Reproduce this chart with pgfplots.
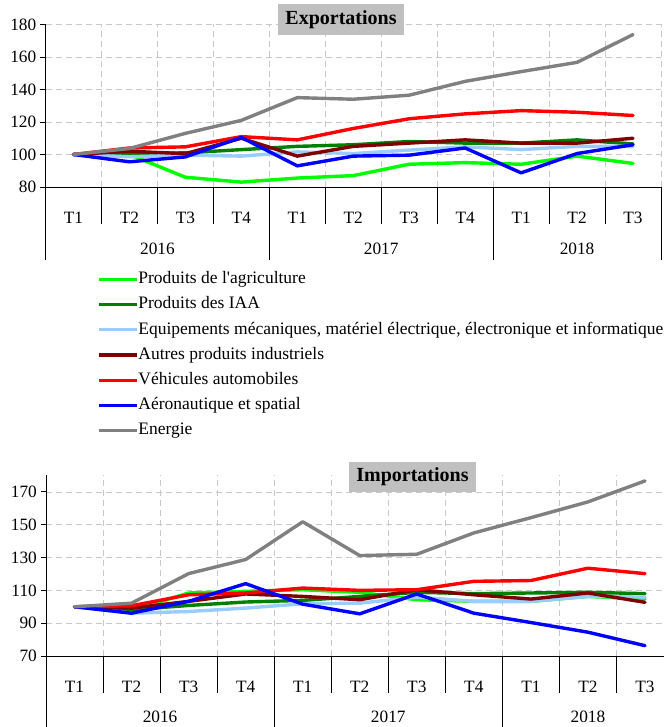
\documentclass[border=0pt]{standalone}
\usepackage{pgfplots}
\pgfplotsset{compat=1.18}
\usepackage{pgfplotstable}
\usepackage{fontspec}
\setmainfont{Liberation Serif}
\newfontfamily\plainserif{Liberation Serif}
\definecolor{cagri}{HTML}{00FF00}
\definecolor{ciaa}{HTML}{008000}
\definecolor{cequip}{HTML}{99CCFF}
\definecolor{cautres}{HTML}{800000}
\definecolor{cvehic}{HTML}{FF0000}
\definecolor{caero}{HTML}{0000FF}
\definecolor{cenergie}{HTML}{808080}
\definecolor{titlegray}{HTML}{C0C0C0}
\definecolor{gridgray}{HTML}{C8C8C8}

\pgfplotstableread{
x agri iaa equip autres vehic aero energie
0 100 100 100 100 100 100 100
1 100 100.6 98.6 102 104 95.5 103.7
2 86 101 99.6 100.5 104.7 98.5 113
3 83 103 99 110 111 110.5 121
4 85.5 105 101.6 99 109 93 135
5 87 106 100.6 105 116 99 134
6 94 108 102.7 107 122 99.6 136.5
7 95 107 104.7 109 125 104 145
8 94 107 103 107 127 88.7 151
9 99 109 105 107 126 100.6 156.7
10 94.5 106.5 105 110 124 106 173.8
}\exports

\pgfplotstableread{
x agri iaa equip autres vehic aero energie
0 100 100 100 100 100 100 100
1 97.8 98.2 96.1 99.2 100.6 96.1 102.2
2 108.4 100.8 97.1 103.3 107.3 103.3 120.2
3 109.4 102.9 99.2 107.8 108.4 114.1 128.8
4 110.4 103.9 101.8 106.3 111.4 101.6 151.8
5 108.8 106.3 102.2 104.3 110 95.7 131.2
6 104.3 108.8 105.9 110.4 110.4 107.8 132
7 103.3 108 103.3 107.3 115.5 96.1 145
8 103.3 108.4 103.3 104.7 116 90.4 154.3
9 106.3 108.8 106.3 108.4 123.5 84.5 163.9
10 104.7 108 105.9 102.7 120.2 76.3 176.7
}\imports

\pgfplotsset{
  chartstyle/.style={
    scale only axis,
    xmin=-0.5, xmax=10.5,
    axis x line*=bottom, axis y line*=left,
    axis line style={black, line width=0.9pt},
    xtick={0,...,10},
    xticklabels={T1,T2,T3,T4,T1,T2,T3,T4,T1,T2,T3},
    x tick style={draw=none},
    major x tick style={draw=none},
    xticklabel style={anchor=center, yshift=-26pt},
    minor xtick={-0.5,0.5,...,10.5},
    xminorgrids=true,
    minor x tick style={draw=none},
    ymajorgrids=true,
    grid style={gridgray, dash pattern=on 6pt off 4pt, line width=0.8pt},
    minor grid style={gridgray, dash pattern=on 6pt off 4pt, line width=0.8pt},
    y tick style={black, line width=0.9pt},
    tick align=outside,
    major tick length=5pt,
    ticklabel style={font=\fontsize{17.3}{20}\selectfont},
    yticklabel style={inner sep=4pt},
    /pgf/number format/assume math mode=true,
    clip=false,
    every axis plot/.append style={line width=3.4pt, line join=round, line cap=round},
  }
}

\begin{document}
\begin{tikzpicture}[x=1pt,y=1pt]
\useasboundingbox (0,0) rectangle (663,727);

% ---------- Exportations ----------
\begin{axis}[chartstyle,
  at={(45.5pt,540pt)}, anchor=south west,
  width=615.5pt, height=162.5pt,
  ymin=80, ymax=180, ytick={80,100,...,180},
  legend style={at={(axis description cs:0,0)}, anchor=north west,
    xshift=51.5pt, yshift=-84pt, draw=none, fill=none, inner sep=0pt,
    font=\fontsize{17.5}{20}\selectfont,
    nodes={inner sep=0pt, text height=12.5pt, text depth=4pt},
    row sep=8.7pt},
  legend cell align=left,
  legend image code/.code={\draw[#1, line width=3.2pt, line cap=butt] (0pt,0pt) -- (38pt,0pt);},
  /tikz/every even column/.append style={column sep=2pt},
]
\addplot[cagri] table[x=x,y=agri] {\exports};
\addlegendentry{{\plainserif Produits de l'agriculture}}
\addplot[ciaa] table[x=x,y=iaa] {\exports};
\addlegendentry{Produits des IAA}
\addplot[cequip] table[x=x,y=equip] {\exports};
\addlegendentry{Equipements mécaniques, matériel électrique, électronique et informatique}
\addplot[cautres] table[x=x,y=autres] {\exports};
\addlegendentry{Autres produits industriels}
\addplot[cvehic] table[x=x,y=vehic] {\exports};
\addlegendentry{Véhicules automobiles}
\addplot[caero] table[x=x,y=aero] {\exports};
\addlegendentry{Aéronautique et spatial}
\addplot[cenergie] table[x=x,y=energie] {\exports};
\addlegendentry{Energie}
\pgfplotsinvokeforeach{-0.5,0.5,1.5,2.5,3.5,4.5,5.5,6.5,7.5,8.5,9.5,10.5}{
  \draw[black, line width=0.9pt] (axis cs:#1,80) -- ++(0pt,-37pt);
}
\pgfplotsinvokeforeach{-0.5,3.5,7.5,10.5}{
  \draw[black, line width=0.9pt] (axis cs:#1,80) -- ++(0pt,-73pt);
}
\node[font=\fontsize{17.3}{20}\selectfont, yshift=-62pt] at (axis cs:1.5,80) {2016};
\node[font=\fontsize{17.3}{20}\selectfont, yshift=-62pt] at (axis cs:5.5,80) {2017};
\node[font=\fontsize{17.3}{20}\selectfont, yshift=-62pt] at (axis cs:9,80) {2018};
\end{axis}

% ---------- Importations ----------
\begin{axis}[chartstyle,
  at={(46pt,71pt)}, anchor=south west,
  width=627.5pt, height=180.5pt,
  ymin=70, ymax=180, ytick={70,90,...,170},
]
\addplot[cagri] table[x=x,y=agri] {\imports};
\addplot[ciaa] table[x=x,y=iaa] {\imports};
\addplot[cequip] table[x=x,y=equip] {\imports};
\addplot[cautres] table[x=x,y=autres] {\imports};
\addplot[cvehic] table[x=x,y=vehic] {\imports};
\addplot[caero] table[x=x,y=aero] {\imports};
\addplot[cenergie] table[x=x,y=energie] {\imports};
\pgfplotsinvokeforeach{-0.5,0.5,1.5,2.5,3.5,4.5,5.5,6.5,7.5,8.5,9.5,10.5}{
  \draw[black, line width=0.9pt] (axis cs:#1,70) -- ++(0pt,-37pt);
}
\pgfplotsinvokeforeach{-0.5,3.5,7.5,10.5}{
  \draw[black, line width=0.9pt] (axis cs:#1,70) -- ++(0pt,-75pt);
}
\node[font=\fontsize{17.3}{20}\selectfont, yshift=-61pt] at (axis cs:1.5,70) {2016};
\node[font=\fontsize{17.3}{20}\selectfont, yshift=-61pt] at (axis cs:5.5,70) {2017};
\node[font=\fontsize{17.3}{20}\selectfont, yshift=-61pt] at (axis cs:9,70) {2018};
\end{axis}

\node[fill=titlegray, font=\bfseries\fontsize{20}{23}\selectfont, minimum width=126pt, minimum height=31pt, inner sep=0pt] at (341,707) {Exportations};
\node[fill=titlegray, font=\bfseries\fontsize{20}{23}\selectfont, minimum width=127pt, minimum height=30pt, inner sep=0pt] at (412.5,250) {Importations};
\end{tikzpicture}
\end{document}
